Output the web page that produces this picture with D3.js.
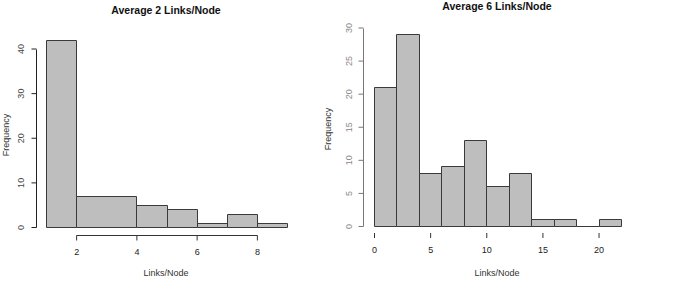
<!DOCTYPE html>
<html>
<head>
<meta charset="utf-8">
<script src="https://cdn.jsdelivr.net/npm/d3@7"></script>
<style>
  body { margin: 0; background: #fff; }
  text { font-family: "Liberation Sans", Arial, sans-serif; }
</style>
</head>
<body>
<div id="chart"></div>
<script>
// histogram bin edges and counts
const leftBreaks = [1, 2, 4, 5, 6, 7, 8, 9];
const leftCounts = [42, 7, 5, 4, 1, 3, 1];
const leftXTicks = [2, 4, 6, 8];
const leftYTicks = [0, 10, 20, 30, 40];

const rightBreaks = [0, 2, 4, 6, 8, 10, 12, 14, 16, 18, 20, 22];
const rightCounts = [21, 29, 8, 9, 13, 6, 8, 1, 1, 0, 1];
const rightXTicks = [0, 5, 10, 15, 20];
const rightYTicks = [0, 5, 10, 15, 20, 25, 30];

const svg = d3.select("#chart")
    .append("svg")
    .attr("width", 686)
    .attr("height", 285);

function drawHist(o) {
    const x = d3.scaleLinear().domain(o.xDomain).range(o.xRange);
    const y = d3.scaleLinear().domain(o.yDomain).range(o.yRange);
    const g = svg.append("g");

    // bars (path so an empty bin still shows as a line)
    g.selectAll("path.bar")
        .data(o.counts)
        .enter().append("path")
        .attr("class", "bar")
        .attr("d", (d, i) => {
            const x0 = Math.round(x(o.breaks[i])) + 0.5;
            const x1 = Math.round(x(o.breaks[i + 1])) + 0.5;
            const y0 = Math.round(y(0)) + 0.5;
            const y1 = Math.round(y(d)) + 0.5;
            return `M${x0},${y0}V${y1}H${x1}V${y0}Z`;
        })
        .attr("fill", "#bebebe")
        .attr("stroke", "#3a3a3a")
        .attr("stroke-width", 1);

    // x axis
    const xAxis = g.append("g")
        .attr("transform", `translate(0,${o.xAxisY})`)
        .call(d3.axisBottom(x).tickValues(o.xTicks).tickSize(5).tickSizeOuter(0).tickPadding(o.xPad));
    xAxis.select(".domain").remove();
    if (o.xLine) {
        xAxis.append("line")
            .attr("x1", Math.round(x(o.xTicks[0])) + 0.5)
            .attr("x2", Math.round(x(o.xTicks[o.xTicks.length - 1])) + 0.5)
            .attr("stroke", "#333");
    }
    xAxis.selectAll(".tick line").attr("stroke", "#333");
    xAxis.selectAll("text")
        .attr("font-size", 9)
        .attr("font-family", "Liberation Sans, Arial, sans-serif")
        .attr("fill", "#222");

    // y axis with rotated labels
    const yAxis = g.append("g")
        .attr("transform", `translate(${o.yAxisX},0)`)
        .call(d3.axisLeft(y).tickValues(o.yTicks).tickSize(5).tickSizeOuter(0));
    yAxis.select(".domain").remove();
    yAxis.append("line")
        .attr("y1", Math.round(y(o.yTicks[0])) + 0.5)
        .attr("y2", Math.round(y(o.yTicks[o.yTicks.length - 1])) + 0.5)
        .attr("stroke", o.yColor);
    yAxis.selectAll(".tick line").attr("stroke", o.yColor);
    yAxis.selectAll("text")
        .attr("font-size", 9)
        .attr("font-family", "Liberation Sans, Arial, sans-serif")
        .attr("fill", o.yTextColor)
        .attr("text-anchor", "middle")
        .attr("x", 0)
        .attr("dy", 0)
        .attr("transform", `translate(${o.yLabelOffset},0) rotate(-90)`);

    // titles
    g.append("text")
        .attr("x", o.center)
        .attr("y", o.titleY)
        .attr("text-anchor", "middle")
        .attr("font-size", 10.5)
        .attr("font-weight", "bold")
        .attr("fill", "#111")
        .text(o.title);

    g.append("text")
        .attr("x", o.center)
        .attr("y", 276)
        .attr("text-anchor", "middle")
        .attr("font-size", 9)
        .attr("fill", "#333")
        .text("Links/Node");

    g.append("text")
        .attr("transform", `translate(${o.yTitleX},${o.yTitleY}) rotate(-90)`)
        .attr("text-anchor", "middle")
        .attr("font-size", 9)
        .attr("fill", "#333")
        .text("Frequency");
}

drawHist({
    breaks: leftBreaks, counts: leftCounts,
    xTicks: leftXTicks, yTicks: leftYTicks,
    xDomain: [1, 9], xRange: [46, 287],
    yDomain: [0, 40], yRange: [227, 48.5],
    xAxisY: 235.5, xPad: 8, xLine: true,
    yAxisX: 36.5, yLabelOffset: -12.5, yColor: "#222", yTextColor: "#444",
    title: "Average 2 Links/Node", titleY: 14, center: 166,
    yTitleX: 9, yTitleY: 135
});

drawHist({
    breaks: rightBreaks, counts: rightCounts,
    xTicks: rightXTicks, yTicks: rightYTicks,
    xDomain: [0, 22], xRange: [374, 621],
    yDomain: [0, 30], yRange: [226, 27.5],
    xAxisY: 233, xPad: 9, xLine: false,
    yAxisX: 363.5, yLabelOffset: -11.5, yColor: "#777", yTextColor: "#888",
    title: "Average 6 Links/Node", titleY: 10, center: 497,
    yTitleX: 331, yTitleY: 129
});
</script>
</body>
</html>
